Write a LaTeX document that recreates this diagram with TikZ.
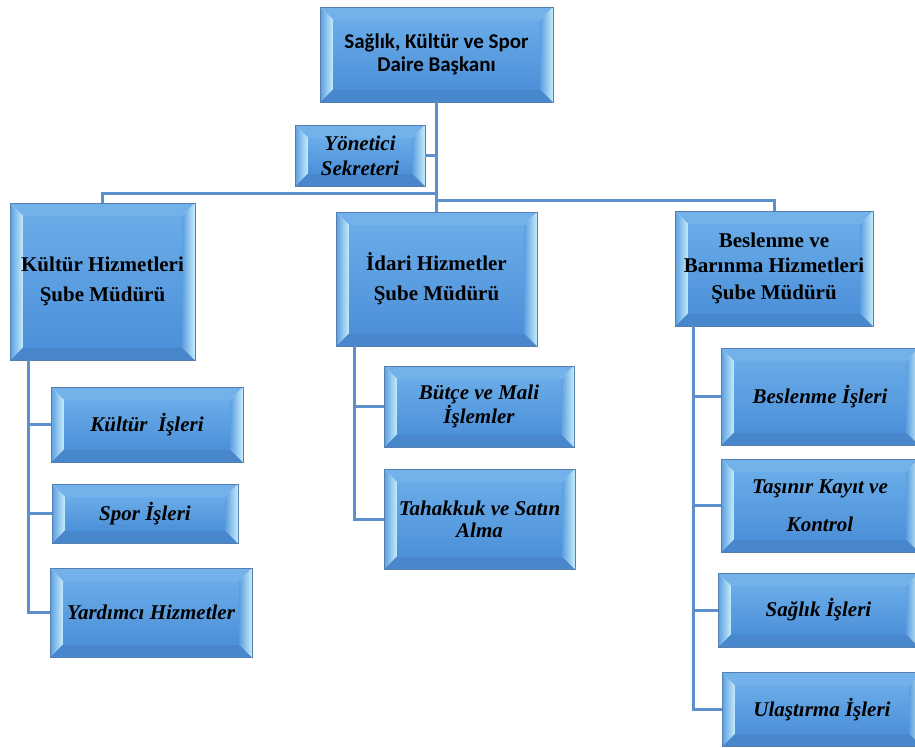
\documentclass[tikz,border=0pt]{standalone}
\usepackage{fontspec}
\setmainfont{Liberation Serif}
\newfontfamily\calfont{Carlito}
\usepackage{tikz}
\definecolor{edgeblue}{HTML}{557FAE}
\definecolor{lineblue}{HTML}{5C91CD}
\definecolor{facetop}{HTML}{6AACE8}
\definecolor{facebot}{HTML}{4C90D9}
\definecolor{rimlight}{HTML}{C6EDFB}
\definecolor{rimmid}{HTML}{5B9EE0}
\definecolor{rimtop}{HTML}{72B1EA}
\definecolor{rimbot}{HTML}{4987CD}
\newcommand{\bv}{13pt}
\tikzstyle{bevel} = [draw=edgeblue, line width=0.8pt, rectangle, inner sep=0pt,
    align=center, font=\fontsize{21}{23}\selectfont\bfseries,
    path picture={
      \path (path picture bounding box.south west) coordinate (o1)
            (path picture bounding box.north west) coordinate (o2)
            (path picture bounding box.north east) coordinate (o3)
            (path picture bounding box.south east) coordinate (o4);
      \path ([xshift=\bv,yshift=\bv]o1) coordinate (i1)
            ([xshift=\bv,yshift=-\bv]o2) coordinate (i2)
            ([xshift=-\bv,yshift=-\bv]o3) coordinate (i3)
            ([xshift=-\bv,yshift=\bv]o4) coordinate (i4);
      \fill [rimtop] (o2) -- (o3) -- (i3) -- (i2) -- cycle;
      \fill [rimbot] (o1) -- (o4) -- (i4) -- (i1) -- cycle;
      \shade [left color=rimmid, right color=rimlight] (o1) -- (o2) -- (i2) -- (i1) -- cycle;
      \shade [left color=rimmid, right color=rimlight] (o4) -- (o3) -- (i3) -- (i4) -- cycle;
      \shade [top color=facetop, bottom color=facebot] (i1) rectangle (i3);
    }]
\tikzstyle{unit} = [bevel, font=\fontsize{21}{22}\selectfont\bfseries\itshape]
\tikzstyle{link} = [draw=lineblue, line width=3pt]
\tikzset{wh/.style 2 args={minimum width=#1pt, minimum height=#2pt}}

\begin{document}
\begin{tikzpicture}[x=1pt, y=-1pt]
    \path [use as bounding box, clip] (0,0) rectangle (915,747);
    % head and secretary
    \node [bevel, wh={233}{95}, font=\calfont\fontsize{21}{23}\selectfont\bfseries] (daire) at (436.5,54.5) {Sağlık, Kültür ve Spor\\Daire Başkanı};
    \node [unit, wh={130}{61}] (sekreter) at (360,155.5) {Yönetici\\[3pt]Sekreteri};
    % branch managers
    \node [bevel, wh={185}{157}] (kultur) at (102.5,281.5) {Kültür Hizmetleri\\[7pt]Şube Müdürü};
    \node [bevel, wh={201}{134}] (idari) at (436.5,279) {İdari Hizmetler\\[7pt]Şube Müdürü};
    \node [bevel, wh={198}{115}] (beslenme) at (774,268.5) {Beslenme ve\\[2pt]Barınma Hizmetleri\\[4pt]Şube Müdürü};
    % units
    \node [unit, wh={192}{75}] (kisleri) at (147,424.5) {Kültür\ \ İşleri};
    \node [unit, wh={186}{59}] (spor) at (145,513.5) {Spor İşleri};
    \node [unit, wh={202}{89}] (yardimci) at (151,612.5) {Yardımcı Hizmetler};
    \node [unit, wh={190}{81}] (butce) at (479,406.5) {Bütçe ve Mali\\İşlemler};
    \node [unit, wh={191}{100}] (tahakkuk) at (479.5,519) {Tahakkuk ve Satın\\Alma};
    \node [unit, wh={198}{97}] (besisleri) at (820,396.5) {Beslenme İşleri};
    \node [unit, wh={198}{93}] (tasinir) at (820,505.5) {Taşınır Kayıt ve\\[16pt]Kontrol};
    \node [unit, wh={201}{74}] (saglik) at (818.5,610) {Sağlık İşleri};
    \node [unit, wh={200}{74}] (ulastirma) at (822,709.5) {Ulaştırma İşleri};
    % trunk
    \coordinate (jl) at (436.5,193);
    \coordinate (jr) at (436.5,200);
    \draw [link] (daire.south) -- (idari.north);
    \draw [link] (sekreter.east) -- (sekreter.east -| daire.south);
    \draw [link] (kultur.north) |- (jl);
    \draw [link] (beslenme.north) |- (jr);
    % spines
    \coordinate (ks) at ([xshift=19pt]kultur.south west);
    \coordinate (is) at ([xshift=19pt]idari.south west);
    \coordinate (bs) at ([xshift=19pt]beslenme.south west);
    \draw [link] (ks) |- (yardimci.west);
    \draw [link] (ks |- kisleri.west) -- (kisleri.west);
    \draw [link] (ks |- spor.west) -- (spor.west);
    \draw [link] (is) |- (tahakkuk.west);
    \draw [link] (is |- butce.west) -- (butce.west);
    \draw [link] (bs) |- (ulastirma.west);
    \draw [link] (bs |- besisleri.west) -- (besisleri.west);
    \draw [link] (bs |- tasinir.west) -- (tasinir.west);
    \draw [link] (bs |- saglik.west) -- (saglik.west);
\end{tikzpicture}
\end{document}
